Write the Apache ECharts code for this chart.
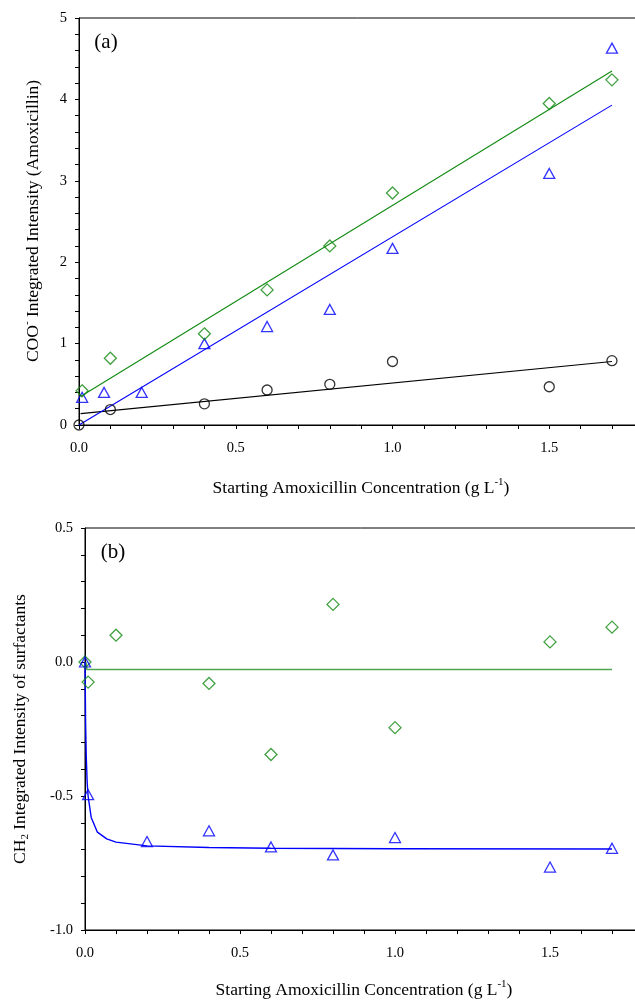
<!DOCTYPE html>
<html><head><meta charset="utf-8">
<script src="https://cdn.jsdelivr.net/npm/echarts@6/dist/echarts.min.js"></script>
<style>html,body{margin:0;padding:0;background:#fff}#c{width:635px;height:1001px}</style>
</head><body><div id="c"></div>
<script>
// ---- Panel (a): COO- integrated intensity ----
const aCircleX = [0, 0.1, 0.4, 0.6, 0.8, 1.0, 1.5, 1.7];
const aCircleY = [0, 0.19, 0.26, 0.43, 0.50, 0.78, 0.47, 0.79];
const aTriX = [0.01, 0.08, 0.2, 0.4, 0.6, 0.8, 1.0, 1.5, 1.7];
const aTriY = [0.34, 0.40, 0.40, 1.00, 1.21, 1.42, 2.17, 3.09, 4.63];
const aDiaX = [0, 0.01, 0.1, 0.4, 0.6, 0.8, 1.0, 1.5, 1.7];
const aDiaY = [-0.01, 0.42, 0.82, 1.12, 1.66, 2.20, 2.85, 3.95, 4.24];
const aFitBlackX = [0.005, 1.7];
const aFitBlackY = [0.14, 0.78];
const aFitBlueX = [0, 1.7];
const aFitBlueY = [0.0, 3.93];
const aFitGreenX = [0.005, 1.7];
const aFitGreenY = [0.35, 4.35];

// ---- Panel (b): CH2 integrated intensity ----
const bDiaX = [0, 0.01, 0.1, 0.4, 0.6, 0.8, 1.0, 1.5, 1.7];
const bDiaY = [0, -0.075, 0.10, -0.08, -0.345, 0.215, -0.245, 0.075, 0.13];
const bTriX = [0, 0.01, 0.2, 0.4, 0.6, 0.8, 1.0, 1.5, 1.7];
const bTriY = [0, -0.495, -0.67, -0.63, -0.69, -0.72, -0.655, -0.765, -0.695];
const bFitBlueX = [0, 0.002, 0.004, 0.007, 0.01, 0.02, 0.04, 0.07, 0.1, 0.2, 0.4, 0.6, 1.0, 1.7];
const bFitBlueY = [0, -0.23, -0.35, -0.45, -0.50, -0.58, -0.635, -0.66, -0.672, -0.686, -0.692, -0.695, -0.697, -0.698];
const bFitGreenX = [0.003, 0.006, 1.7];
const bFitGreenY = [0, -0.028, -0.028];

const xTitleParts = ['Starting Amoxicillin Concentration (g L', '-1', ')'];
const yTitleA = ['COO', '-', ' Integrated Intensity (Amoxicillin)'];
const yTitleB = ['CH', '2', ' Integrated Intensity of surfactants'];
const panelLabels = ['(a)', '(b)'];

const FONT = '"Liberation Serif", "Times New Roman", serif';
const BLACK = '#000000', BLUE = '#0000ff', GREEN = '#118a11', GREEN2 = '#4fa84f';

function zip(xs, ys) { return xs.map((x, i) => [x, ys[i]]); }

function xAxisCfg(gi) {
  return {
    gridIndex: gi, type: 'value', min: 0, max: 2.0, interval: 0.5,
    axisLine: { show: true, onZero: false, lineStyle: { color: BLACK, width: 1 } },
    axisTick: { show: true, inside: false, length: 4, lineStyle: { color: BLACK } },
    minorTick: { show: true, splitNumber: 5, length: 4, lineStyle: { color: BLACK } },
    splitLine: { show: false },
    axisLabel: { color: BLACK, fontFamily: FONT, fontSize: 14.5, margin: 16, formatter: v => v.toFixed(1) }
  };
}
function yAxisCfg(gi, min, max, interval, fmt) {
  return {
    gridIndex: gi, type: 'value', min: min, max: max, interval: interval,
    axisLine: { show: true, onZero: false, lineStyle: { color: BLACK, width: 1 } },
    axisTick: { show: true, inside: false, length: 4, lineStyle: { color: BLACK } },
    minorTick: { show: true, splitNumber: 5, length: 4, lineStyle: { color: BLACK } },
    splitLine: { show: false },
    axisLabel: { color: BLACK, fontFamily: FONT, fontSize: 14.5, margin: 12, formatter: fmt }
  };
}
function scat(gi, xs, ys, symbol, size, color) {
  return {
    type: 'scatter', xAxisIndex: gi, yAxisIndex: gi, data: zip(xs, ys),
    symbol: symbol, symbolSize: size, z: 3,
    itemStyle: { color: 'rgba(0,0,0,0)', borderColor: color, borderWidth: 1.3 },
    emphasis: { disabled: true }, silent: true
  };
}
function fit(gi, xs, ys, color, w) {
  return {
    type: 'line', xAxisIndex: gi, yAxisIndex: gi, data: zip(xs, ys),
    showSymbol: false, symbol: 'none', z: 2,
    lineStyle: { color: color, width: w }, emphasis: { disabled: true }, silent: true
  };
}

const rich = {
  n: { fontFamily: FONT, fontSize: 17.5, color: BLACK, lineHeight: 22 },
  sup: { fontFamily: FONT, fontSize: 11, color: BLACK, verticalAlign: 'top', lineHeight: 8 },
  sub: { fontFamily: FONT, fontSize: 11, color: BLACK, verticalAlign: 'bottom', lineHeight: 6 }
};
function titleText(parts, kinds, x, y, rot) {
  const txt = parts.map((p, i) => '{' + kinds[i] + '|' + p + '}').join('');
  return {
    type: 'text', x: x, y: y, rotation: rot || 0, silent: true,
    style: { text: txt, rich: rich, align: 'center', verticalAlign: 'middle' }
  };
}

const chart = echarts.init(document.getElementById('c'), null, { renderer: 'canvas' });
chart.setOption({
  animation: false,
  backgroundColor: '#ffffff',
  grid: [
    { left: 79, right: -71, top: 18, bottom: 576, outerBoundsMode: 'none', containLabel: false, show: true, borderColor: BLACK, borderWidth: 1, backgroundColor: 'rgba(0,0,0,0)' },
    { left: 85, right: -70, top: 528, bottom: 71, outerBoundsMode: 'none', containLabel: false, show: true, borderColor: BLACK, borderWidth: 1, backgroundColor: 'rgba(0,0,0,0)' }
  ],
  xAxis: [xAxisCfg(0), xAxisCfg(1)],
  yAxis: [
    yAxisCfg(0, 0, 5, 1, v => String(Math.round(v))),
    yAxisCfg(1, -1.0, 0.5, 0.5, v => v.toFixed(1))
  ],
  series: [
    fit(0, aFitBlackX, aFitBlackY, BLACK, 1.1),
    fit(0, aFitBlueX, aFitBlueY, BLUE, 1.1),
    fit(0, aFitGreenX, aFitGreenY, GREEN, 1.1),
    scat(0, aCircleX, aCircleY, 'circle', 10, BLACK),
    scat(0, aTriX, aTriY, 'triangle', [11, 10], BLUE),
    scat(0, aDiaX, aDiaY, 'diamond', [12, 12], GREEN),
    fit(1, bFitGreenX, bFitGreenY, GREEN2, 1.6),
    fit(1, bFitBlueX, bFitBlueY, BLUE, 1.4),
    scat(1, bDiaX, bDiaY, 'diamond', [12, 12], GREEN),
    scat(1, bTriX, bTriY, 'triangle', [11, 10], BLUE)
  ],
  graphic: [
    titleText(xTitleParts, ['n', 'sup', 'n'], 361, 488),
    titleText(xTitleParts, ['n', 'sup', 'n'], 364, 990),
    titleText(yTitleA, ['n', 'sup', 'n'], 33, 221, Math.PI / 2),
    titleText(yTitleB, ['n', 'sub', 'n'], 20, 729, Math.PI / 2),
    { type: 'text', x: 106, y: 42, silent: true, style: { text: panelLabels[0], fontFamily: FONT, fontSize: 21, fill: BLACK, align: 'center', verticalAlign: 'middle' } },
    { type: 'text', x: 113, y: 552, silent: true, style: { text: panelLabels[1], fontFamily: FONT, fontSize: 21, fill: BLACK, align: 'center', verticalAlign: 'middle' } }
  ]
});
</script>
</body></html>
